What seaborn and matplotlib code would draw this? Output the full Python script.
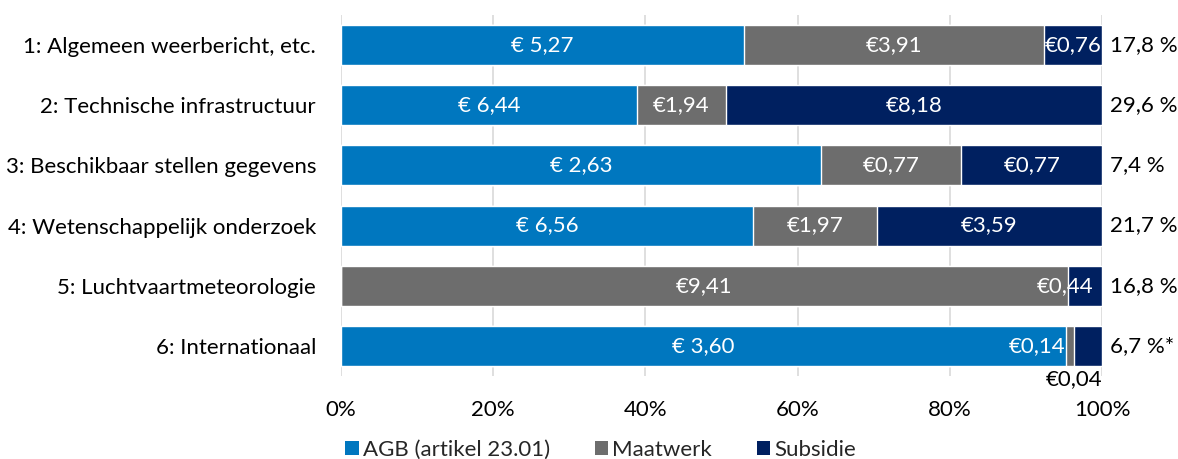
import numpy as np
import pandas as pd
import matplotlib.pyplot as plt
import seaborn as sns
from matplotlib.patches import Patch

# data ------------------------------------------------------------
categories = ["1: Algemeen weerbericht, etc.", "2: Technische infrastructuur",
              "3: Beschikbaar stellen gegevens", "4: Wetenschappelijk onderzoek",
              "5: Luchtvaartmeteorologie", "6: Internationaal"]
agb = [5.27, 6.44, 2.63, 6.56, 0.0, 3.60]
maatwerk = [3.91, 1.94, 0.77, 1.97, 9.41, 0.04]
subsidie = [0.76, 8.18, 0.77, 3.59, 0.44, 0.14]
share_labels = ["17,8 %", "29,6 %", "7,4 %", "21,7 %", "16,8 %", "6,7 %*"]
series_names = ["AGB (artikel 23.01)", "Maatwerk", "Subsidie"]
colors = ["#0077BF", "#6D6D6D", "#002060"]

sns.set_theme(style="white")
plt.rcParams['font.family'] = ['Lato', 'DejaVu Sans']

df = pd.DataFrame({"cat": categories, "agb": agb, "maat": maatwerk, "subs": subsidie})
total = df[["agb", "maat", "subs"]].sum(axis=1)
df["p_agb"] = df["agb"] / total * 100
df["p_maat"] = df["maat"] / total * 100
df["p_subs"] = df["subs"] / total * 100
df["c1"] = df["p_agb"]
df["c2"] = df["c1"] + df["p_maat"]
df["c3"] = df["c2"] + df["p_subs"]

fig, ax = plt.subplots(figsize=(11.78, 4.59), dpi=100)
fig.subplots_adjust(left=341/1178, right=1102/1178, top=1-15/459, bottom=1-376/459)

# cumulative layering: draw the longest first
for col, c in zip(["c3", "c2", "c1"], colors[::-1]):
    sns.barplot(data=df, y="cat", x=col, color=c, orient="h", width=0.667,
                saturation=1, ax=ax, zorder=2)

fs = 16
ax.set_xlim(0, 100)
ax.set_ylim(5.5, -0.5)
ax.set_xticks(np.arange(0, 101, 20))
ax.set_xticklabels([f"{v}%" for v in range(0, 101, 20)], fontsize=fs, color="black")
ax.tick_params(axis="y", labelsize=fs, labelcolor="black", length=0, pad=18)
ax.tick_params(axis="x", length=0, pad=17)
ax.set_xlabel("")
ax.set_ylabel("")
ax.grid(axis="x", color="#D9D9D9", linewidth=1.2, zorder=0)
ax.set_axisbelow(True)
for s in ax.spines.values():
    s.set_visible(False)


def euro(v, space):
    return ("€ " if space else "€") + f"{v:.2f}".replace(".", ",")


for i, row in df.iterrows():
    if row["agb"] > 0:
        ax.text(row["c1"] / 2, i, euro(row["agb"], True), color="white",
                ha="center", va="center", fontsize=fs, zorder=3)
    if i == 5:
        # small segments: labels pushed aside
        ax.text(row["c1"] - 0.1, i, euro(row["subs"], False), color="white",
                ha="right", va="center", fontsize=fs, zorder=3)
        ax.text(row["c3"], i + 0.55, euro(row["maat"], False), color="black",
                ha="right", va="center", fontsize=fs, zorder=3, clip_on=False)
    else:
        ax.text((row["c1"] + row["c2"]) / 2, i, euro(row["maat"], False), color="white",
                ha="center", va="center", fontsize=fs, zorder=3)
        xs = row["c2"] - 0.4 if i == 4 else (row["c2"] + row["c3"]) / 2
        ax.text(xs, i, euro(row["subs"], False), color="white",
                ha="center", va="center", fontsize=fs, zorder=3)
    ax.text(101, i, share_labels[i], color="black", ha="left", va="center",
            fontsize=fs, clip_on=False)

handles = [Patch(facecolor=c, edgecolor="none") for c in colors]
fig.legend(handles, series_names, loc="lower center", bbox_to_anchor=(0.51, -0.046),
           ncol=3, frameon=False, fontsize=fs, handlelength=0.6, handleheight=0.6,
           handletextpad=0.2, columnspacing=2.0)

fig.savefig("out.png", dpi=100)
